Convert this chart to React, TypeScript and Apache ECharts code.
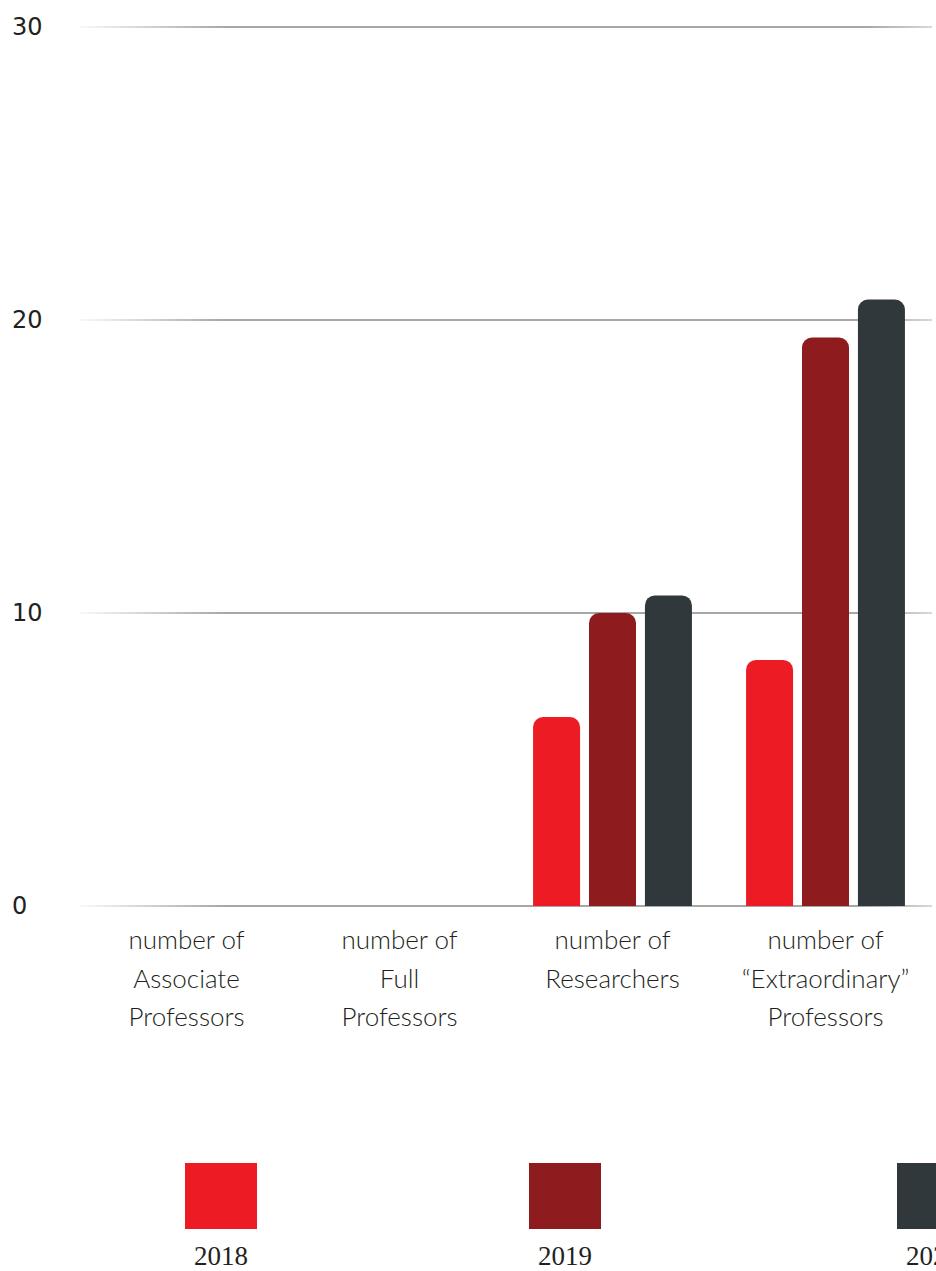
import React, { useEffect, useRef } from "react";
import * as echarts from "echarts";

const categories = [
  "number of\nAssociate\nProfessors",
  "number of\nFull\nProfessors",
  "number of\nResearchers",
  "number of\n“Extraordinary”\nProfessors",
];
const years = ["2018", "2019", "2020"];
const values2018 = [0, 0, 6.45, 8.4];
const values2019 = [0, 0, 10, 19.4];
const values2020 = [0, 0, 10.6, 20.7];
const yTicks = [0, 10, 20, 30];

const colors = ["#ED1C24", "#8E1C1E", "#30383B"];
const legendCenters = [221, 565, 933];

export default function App() {
  const ref = useRef<HTMLDivElement>(null);
  useEffect(() => {
    if (!ref.current) return;
    const chart = echarts.init(ref.current, undefined, { renderer: "svg" });
    const seriesData = [values2018, values2019, values2020];
    const gridGrad = new echarts.graphic.LinearGradient(
      68,
      0,
      936,
      0,
      [
        { offset: 0, color: "rgba(140,140,140,0)" },
        { offset: 0.18, color: "#8a8a8a" },
        { offset: 0.92, color: "#8a8a8a" },
        { offset: 1, color: "#cfcfcf" },
      ],
      true
    );
    const graphic: any[] = [];
    years.forEach((y, i) => {
      graphic.push({
        type: "rect",
        shape: { x: legendCenters[i] - 36, y: 1163, width: 72, height: 66 },
        style: { fill: colors[i] },
      });
      graphic.push({
        type: "text",
        x: legendCenters[i],
        y: 1256,
        style: {
          text: y,
          fill: "#231F20",
          font: "27px 'Liberation Serif', serif",
          textAlign: "center",
          textVerticalAlign: "middle",
        },
      });
    });
    chart.setOption({
      animation: false,
      grid: { left: 80, width: 852, top: 27, height: 879, containLabel: false },
      xAxis: {
        type: "category",
        data: categories,
        axisLine: { show: false },
        axisTick: { show: false },
        axisLabel: {
          interval: 0,
          margin: 14,
          color: "#231F20",
          fontFamily: "Lato",
          fontWeight: 300,
          fontSize: 26,
          lineHeight: 38.5,
          verticalAlign: "top",
        },
      },
      yAxis: {
        type: "value",
        min: yTicks[0],
        max: yTicks[yTicks.length - 1],
        interval: 10,
        axisLine: { show: false },
        axisTick: { show: false },
        axisLabel: {
          align: "left",
          margin: 68,
          color: "#231F20",
          fontFamily: "DejaVu Sans",
          fontSize: 24,
        },
        splitLine: { lineStyle: { color: gridGrad, width: 1.5 } },
      },
      series: years.map((y, i) => ({
        name: y,
        type: "bar",
        data: seriesData[i],
        barWidth: 47,
        barGap: "19%",
        itemStyle: { color: colors[i], borderRadius: [10, 10, 0, 0] },
      })),
      graphic,
    });
    return () => chart.dispose();
  }, []);
  return (
    <div
      style={{
        position: "fixed",
        left: 0,
        top: 0,
        width: 936,
        height: 1271,
        overflow: "hidden",
        background: "#fff",
      }}
    >
      <div ref={ref} style={{ width: 936, height: 1271 }} />
    </div>
  );
}
